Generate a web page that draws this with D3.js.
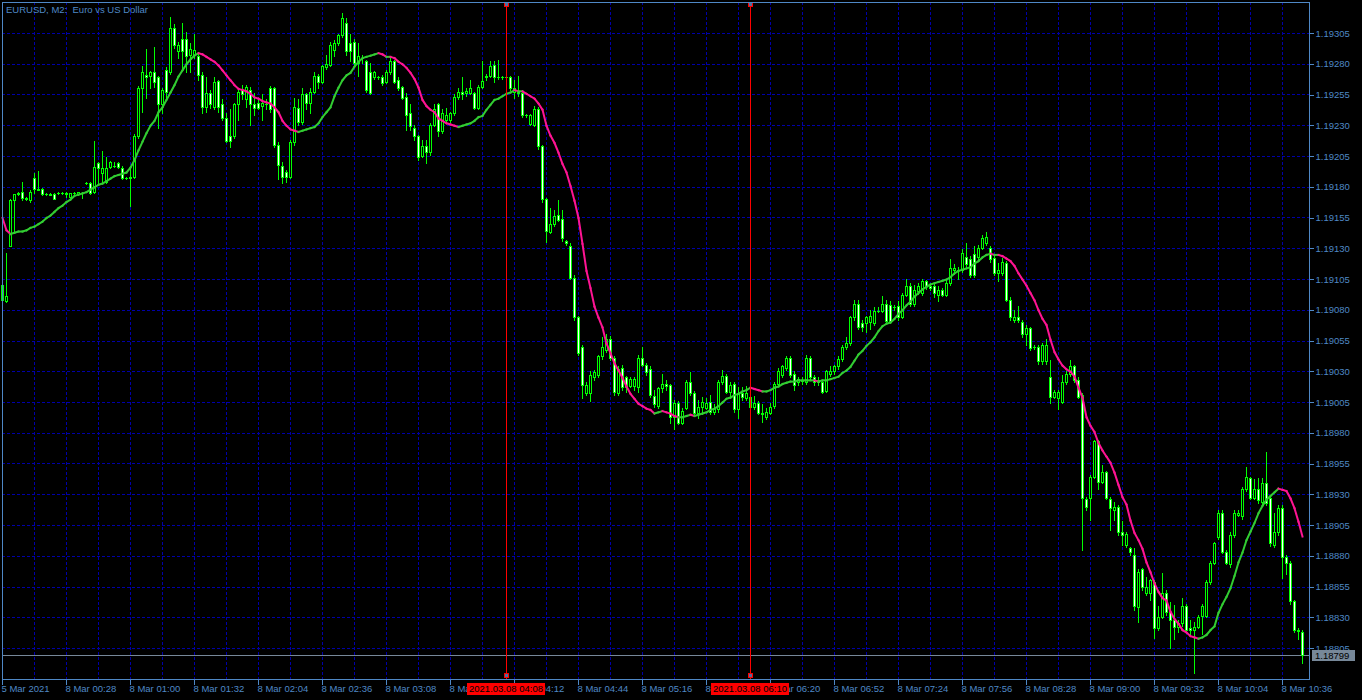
<!DOCTYPE html>
<html>
<head>
<meta charset="utf-8">
<title>EURUSD, M2</title>
<script src="https://d3js.org/d3.v7.min.js"></script>
<style>
  body { margin: 0; background: #000; }
  svg { display: block; }
  text { font-family: "Liberation Sans", Arial, sans-serif; font-size: 9.5px; }
</style>
</head>
<body>
<script>

// EURUSD M2 candles, bar 0 = 5 Mar 23:56, bar 2 = 8 Mar 00:00 (2 minutes per bar)

var openPrices = [
  1.19100, 1.19087, 1.19132, 1.19169, 1.19174, 1.19176, 1.19171, 1.19169, 1.19187, 1.19178,
  1.19178, 1.19174, 1.19174, 1.19174, 1.19175, 1.19175, 1.19174, 1.19172, 1.19175, 1.19174,
  1.19175, 1.19183, 1.19183, 1.19176, 1.19199, 1.19191, 1.19184, 1.19196, 1.19197, 1.19199,
  1.19195, 1.19187, 1.19188, 1.19188, 1.19221, 1.19260, 1.19271, 1.19270, 1.19273, 1.19269,
  1.19247, 1.19275, 1.19273, 1.19309, 1.19290, 1.19300, 1.19300, 1.19287, 1.19287, 1.19286,
  1.19271, 1.19245, 1.19256, 1.19245, 1.19266, 1.19247, 1.19236, 1.19221, 1.19221, 1.19247,
  1.19259, 1.19251, 1.19259, 1.19247, 1.19248, 1.19246, 1.19247, 1.19260, 1.19260, 1.19214,
  1.19197, 1.19192, 1.19188, 1.19216, 1.19244, 1.19233, 1.19255, 1.19248, 1.19257, 1.19270,
  1.19265, 1.19277, 1.19279, 1.19291, 1.19297, 1.19303, 1.19313, 1.19297, 1.19298, 1.19281,
  1.19285, 1.19282, 1.19273, 1.19269, 1.19269, 1.19269, 1.19265, 1.19273, 1.19282, 1.19267,
  1.19261, 1.19253, 1.19240, 1.19228, 1.19221, 1.19205, 1.19213, 1.19208, 1.19230, 1.19247,
  1.19225, 1.19234, 1.19234, 1.19240, 1.19253, 1.19257, 1.19256, 1.19256, 1.19256, 1.19244,
  1.19261, 1.19270, 1.19270, 1.19279, 1.19269, 1.19269, 1.19269, 1.19269, 1.19257, 1.19257,
  1.19256, 1.19238, 1.19231, 1.19230, 1.19243, 1.19213, 1.19170, 1.19143, 1.19150, 1.19157,
  1.19154, 1.19136, 1.19132, 1.19106, 1.19074, 1.19050, 1.19012, 1.19012, 1.19025, 1.19027,
  1.19042, 1.19047, 1.19056, 1.19041, 1.19012, 1.19033, 1.19025, 1.19018, 1.19018, 1.19017,
  1.19041, 1.19035, 1.19032, 1.19010, 1.19002, 1.19016, 1.19020, 1.19019, 1.18993, 1.19004,
  1.18988, 1.19000, 1.19021, 1.19012, 1.18996, 1.19001, 1.19000, 1.19005, 1.18997, 1.18999,
  1.19021, 1.19026, 1.19013, 1.19020, 1.18999, 1.19012, 1.19008, 1.19009, 1.19001, 1.19004,
  1.18996, 1.18993, 1.18996, 1.19002, 1.19020, 1.19027, 1.19033, 1.19041, 1.19028, 1.19021,
  1.19022, 1.19021, 1.19041, 1.19025, 1.19021, 1.19021, 1.19014, 1.19028, 1.19030, 1.19034,
  1.19040, 1.19050, 1.19053, 1.19074, 1.19085, 1.19069, 1.19069, 1.19070, 1.19069, 1.19079,
  1.19079, 1.19085, 1.19084, 1.19082, 1.19083, 1.19074, 1.19092, 1.19099, 1.19085, 1.19095,
  1.19094, 1.19103, 1.19099, 1.19099, 1.19092, 1.19096, 1.19092, 1.19102, 1.19112, 1.19112,
  1.19112, 1.19123, 1.19121, 1.19125, 1.19123, 1.19130, 1.19134, 1.19130, 1.19122, 1.19110,
  1.19110, 1.19118, 1.19088, 1.19072, 1.19074, 1.19070, 1.19060, 1.19065, 1.19050, 1.19050,
  1.19038, 1.19038, 1.19025, 1.19009, 1.19008, 1.19005, 1.19021, 1.19028, 1.19034, 1.19023,
  1.19011, 1.18926, 1.18927, 1.18944, 1.18973, 1.18940, 1.18948, 1.18926, 1.18917, 1.18920,
  1.18899, 1.18889, 1.18886, 1.18881, 1.18838, 1.18869, 1.18850, 1.18850, 1.18859, 1.18821,
  1.18830, 1.18850, 1.18834, 1.18828, 1.18822, 1.18825, 1.18839, 1.18821, 1.18820, 1.18822,
  1.18831, 1.18831, 1.18859, 1.18874, 1.18895, 1.18915, 1.18883, 1.18873, 1.18897, 1.18913,
  1.18912, 1.18934, 1.18943, 1.18927, 1.18934, 1.18924, 1.18939, 1.18927, 1.18889, 1.18899,
  1.18919, 1.18879, 1.18874, 1.18843, 1.18820, 1.18818
];

var highPrices = [
  1.19108, 1.19126, 1.19170, 1.19174, 1.19176, 1.19184, 1.19172, 1.19177, 1.19191, 1.19193,
  1.19179, 1.19175, 1.19175, 1.19175, 1.19176, 1.19176, 1.19176, 1.19175, 1.19176, 1.19176,
  1.19176, 1.19184, 1.19184, 1.19217, 1.19200, 1.19209, 1.19204, 1.19201, 1.19200, 1.19200,
  1.19197, 1.19188, 1.19196, 1.19223, 1.19262, 1.19278, 1.19292, 1.19274, 1.19294, 1.19270,
  1.19260, 1.19277, 1.19318, 1.19312, 1.19298, 1.19313, 1.19306, 1.19297, 1.19304, 1.19289,
  1.19273, 1.19269, 1.19259, 1.19269, 1.19267, 1.19251, 1.19240, 1.19243, 1.19248, 1.19260,
  1.19263, 1.19263, 1.19261, 1.19256, 1.19251, 1.19255, 1.19251, 1.19262, 1.19261, 1.19216,
  1.19200, 1.19194, 1.19218, 1.19252, 1.19251, 1.19260, 1.19256, 1.19260, 1.19273, 1.19272,
  1.19279, 1.19287, 1.19298, 1.19299, 1.19304, 1.19321, 1.19317, 1.19304, 1.19300, 1.19297,
  1.19287, 1.19283, 1.19281, 1.19274, 1.19270, 1.19271, 1.19275, 1.19285, 1.19283, 1.19269,
  1.19262, 1.19256, 1.19247, 1.19230, 1.19222, 1.19218, 1.19218, 1.19232, 1.19247, 1.19248,
  1.19243, 1.19244, 1.19241, 1.19255, 1.19260, 1.19269, 1.19260, 1.19267, 1.19257, 1.19263,
  1.19282, 1.19272, 1.19282, 1.19282, 1.19283, 1.19270, 1.19270, 1.19270, 1.19267, 1.19270,
  1.19259, 1.19239, 1.19239, 1.19246, 1.19245, 1.19214, 1.19171, 1.19163, 1.19161, 1.19169,
  1.19161, 1.19137, 1.19134, 1.19108, 1.19075, 1.19051, 1.19021, 1.19030, 1.19031, 1.19043,
  1.19058, 1.19060, 1.19059, 1.19042, 1.19034, 1.19035, 1.19026, 1.19025, 1.19025, 1.19043,
  1.19050, 1.19037, 1.19034, 1.19015, 1.19017, 1.19028, 1.19023, 1.19020, 1.19007, 1.19006,
  1.19000, 1.19023, 1.19029, 1.19014, 1.19007, 1.19009, 1.19008, 1.19011, 1.19003, 1.19023,
  1.19031, 1.19028, 1.19021, 1.19021, 1.19017, 1.19017, 1.19018, 1.19011, 1.19010, 1.19006,
  1.19003, 1.19000, 1.19004, 1.19021, 1.19033, 1.19035, 1.19042, 1.19042, 1.19030, 1.19025,
  1.19025, 1.19043, 1.19042, 1.19027, 1.19025, 1.19023, 1.19031, 1.19034, 1.19035, 1.19042,
  1.19051, 1.19058, 1.19075, 1.19088, 1.19088, 1.19072, 1.19075, 1.19080, 1.19082, 1.19082,
  1.19091, 1.19088, 1.19087, 1.19084, 1.19087, 1.19094, 1.19105, 1.19102, 1.19100, 1.19102,
  1.19105, 1.19104, 1.19101, 1.19101, 1.19099, 1.19098, 1.19104, 1.19121, 1.19117, 1.19115,
  1.19129, 1.19134, 1.19124, 1.19132, 1.19133, 1.19141, 1.19143, 1.19132, 1.19124, 1.19118,
  1.19122, 1.19120, 1.19090, 1.19080, 1.19083, 1.19072, 1.19068, 1.19066, 1.19051, 1.19051,
  1.19053, 1.19056, 1.19039, 1.19015, 1.19015, 1.19027, 1.19030, 1.19039, 1.19035, 1.19025,
  1.19012, 1.18928, 1.18946, 1.18974, 1.18974, 1.18954, 1.18949, 1.18928, 1.18924, 1.18921,
  1.18908, 1.18899, 1.18887, 1.18886, 1.18869, 1.18870, 1.18863, 1.18861, 1.18860, 1.18839,
  1.18866, 1.18852, 1.18842, 1.18840, 1.18828, 1.18846, 1.18841, 1.18828, 1.18826, 1.18832,
  1.18841, 1.18860, 1.18876, 1.18891, 1.18917, 1.18917, 1.18885, 1.18899, 1.18917, 1.18917,
  1.18936, 1.18952, 1.18944, 1.18942, 1.18943, 1.18943, 1.18964, 1.18929, 1.18915, 1.18921,
  1.18921, 1.18881, 1.18876, 1.18844, 1.18821, 1.18820
];

var lowPrices = [
  1.19086, 1.19086, 1.19132, 1.19143, 1.19173, 1.19169, 1.19169, 1.19168, 1.19175, 1.19177,
  1.19173, 1.19173, 1.19173, 1.19170, 1.19174, 1.19174, 1.19172, 1.19172, 1.19174, 1.19173,
  1.19171, 1.19182, 1.19174, 1.19175, 1.19182, 1.19183, 1.19183, 1.19195, 1.19196, 1.19195,
  1.19186, 1.19186, 1.19164, 1.19187, 1.19220, 1.19241, 1.19252, 1.19260, 1.19261, 1.19228,
  1.19240, 1.19251, 1.19272, 1.19293, 1.19285, 1.19275, 1.19273, 1.19273, 1.19285, 1.19267,
  1.19240, 1.19241, 1.19244, 1.19243, 1.19241, 1.19234, 1.19216, 1.19212, 1.19220, 1.19234,
  1.19251, 1.19245, 1.19230, 1.19238, 1.19243, 1.19234, 1.19243, 1.19241, 1.19212, 1.19186,
  1.19183, 1.19184, 1.19187, 1.19214, 1.19230, 1.19231, 1.19243, 1.19240, 1.19256, 1.19260,
  1.19264, 1.19276, 1.19278, 1.19286, 1.19295, 1.19302, 1.19287, 1.19282, 1.19279, 1.19270,
  1.19281, 1.19257, 1.19255, 1.19268, 1.19268, 1.19263, 1.19264, 1.19272, 1.19264, 1.19259,
  1.19251, 1.19226, 1.19226, 1.19218, 1.19202, 1.19204, 1.19199, 1.19206, 1.19229, 1.19221,
  1.19224, 1.19233, 1.19233, 1.19238, 1.19251, 1.19251, 1.19254, 1.19255, 1.19243, 1.19243,
  1.19260, 1.19267, 1.19269, 1.19265, 1.19268, 1.19268, 1.19268, 1.19259, 1.19252, 1.19254,
  1.19237, 1.19237, 1.19230, 1.19229, 1.19211, 1.19168, 1.19135, 1.19142, 1.19148, 1.19152,
  1.19136, 1.19133, 1.19105, 1.19072, 1.19043, 1.19008, 1.19011, 1.19006, 1.19023, 1.19025,
  1.19040, 1.19046, 1.19039, 1.19011, 1.19011, 1.19015, 1.19013, 1.19017, 1.19015, 1.19013,
  1.19034, 1.19027, 1.19009, 1.19001, 1.19000, 1.19013, 1.19015, 1.18988, 1.18983, 1.18987,
  1.18987, 1.18999, 1.19011, 1.18995, 1.18992, 1.18995, 1.18999, 1.18995, 1.18995, 1.18997,
  1.19020, 1.19012, 1.19008, 1.18997, 1.18992, 1.19007, 1.19007, 1.19000, 1.18999, 1.18995,
  1.18989, 1.18991, 1.18995, 1.19000, 1.19018, 1.19025, 1.19031, 1.19025, 1.19015, 1.19019,
  1.19020, 1.19020, 1.19023, 1.19019, 1.19019, 1.19012, 1.19013, 1.19026, 1.19028, 1.19032,
  1.19038, 1.19048, 1.19051, 1.19072, 1.19064, 1.19063, 1.19062, 1.19064, 1.19068, 1.19078,
  1.19078, 1.19069, 1.19069, 1.19080, 1.19072, 1.19073, 1.19091, 1.19083, 1.19083, 1.19093,
  1.19092, 1.19097, 1.19096, 1.19090, 1.19087, 1.19091, 1.19091, 1.19100, 1.19109, 1.19105,
  1.19111, 1.19115, 1.19107, 1.19107, 1.19121, 1.19129, 1.19133, 1.19119, 1.19108, 1.19103,
  1.19108, 1.19087, 1.19072, 1.19070, 1.19070, 1.19058, 1.19051, 1.19047, 1.19048, 1.19036,
  1.19036, 1.19036, 1.19004, 1.19008, 1.18999, 1.19004, 1.19020, 1.19026, 1.19021, 1.19008,
  1.18885, 1.18917, 1.18909, 1.18943, 1.18934, 1.18939, 1.18926, 1.18901, 1.18909, 1.18897,
  1.18889, 1.18887, 1.18881, 1.18836, 1.18826, 1.18852, 1.18848, 1.18844, 1.18813, 1.18820,
  1.18829, 1.18832, 1.18805, 1.18812, 1.18818, 1.18823, 1.18818, 1.18816, 1.18785, 1.18821,
  1.18816, 1.18830, 1.18857, 1.18873, 1.18894, 1.18882, 1.18873, 1.18871, 1.18895, 1.18912,
  1.18910, 1.18933, 1.18926, 1.18926, 1.18923, 1.18922, 1.18921, 1.18888, 1.18887, 1.18897,
  1.18862, 1.18865, 1.18841, 1.18818, 1.18812, 1.18793
];

var closePrices = [
  1.19088, 1.19091, 1.19169, 1.19174, 1.19175, 1.19171, 1.19170, 1.19176, 1.19178, 1.19177,
  1.19174, 1.19174, 1.19173, 1.19170, 1.19175, 1.19175, 1.19175, 1.19175, 1.19175, 1.19176,
  1.19175, 1.19183, 1.19175, 1.19196, 1.19195, 1.19195, 1.19195, 1.19200, 1.19197, 1.19196,
  1.19187, 1.19187, 1.19187, 1.19221, 1.19260, 1.19273, 1.19269, 1.19273, 1.19265, 1.19247,
  1.19259, 1.19257, 1.19309, 1.19295, 1.19295, 1.19290, 1.19286, 1.19292, 1.19291, 1.19271,
  1.19245, 1.19256, 1.19247, 1.19265, 1.19245, 1.19236, 1.19217, 1.19217, 1.19247, 1.19257,
  1.19255, 1.19261, 1.19247, 1.19244, 1.19244, 1.19248, 1.19247, 1.19243, 1.19214, 1.19198,
  1.19188, 1.19188, 1.19216, 1.19245, 1.19233, 1.19255, 1.19248, 1.19257, 1.19270, 1.19265,
  1.19278, 1.19280, 1.19295, 1.19297, 1.19303, 1.19317, 1.19290, 1.19290, 1.19281, 1.19286,
  1.19285, 1.19259, 1.19256, 1.19273, 1.19269, 1.19264, 1.19273, 1.19282, 1.19265, 1.19260,
  1.19252, 1.19238, 1.19229, 1.19221, 1.19204, 1.19213, 1.19208, 1.19230, 1.19243, 1.19225,
  1.19240, 1.19238, 1.19240, 1.19253, 1.19257, 1.19255, 1.19258, 1.19260, 1.19244, 1.19261,
  1.19266, 1.19269, 1.19278, 1.19269, 1.19269, 1.19269, 1.19269, 1.19260, 1.19260, 1.19256,
  1.19238, 1.19238, 1.19238, 1.19243, 1.19213, 1.19170, 1.19144, 1.19150, 1.19156, 1.19153,
  1.19138, 1.19134, 1.19106, 1.19074, 1.19045, 1.19019, 1.19019, 1.19027, 1.19029, 1.19042,
  1.19050, 1.19056, 1.19041, 1.19013, 1.19032, 1.19017, 1.19017, 1.19024, 1.19024, 1.19041,
  1.19035, 1.19029, 1.19011, 1.19003, 1.19016, 1.19020, 1.19018, 1.18993, 1.19004, 1.18988,
  1.18998, 1.19021, 1.19012, 1.18996, 1.19001, 1.19005, 1.19004, 1.18997, 1.19000, 1.19021,
  1.19026, 1.19013, 1.19019, 1.18999, 1.19012, 1.19009, 1.19012, 1.19001, 1.19004, 1.18996,
  1.18995, 1.18997, 1.19001, 1.19020, 1.19030, 1.19034, 1.19041, 1.19027, 1.19019, 1.19024,
  1.19023, 1.19041, 1.19025, 1.19021, 1.19023, 1.19013, 1.19030, 1.19030, 1.19034, 1.19040,
  1.19050, 1.19053, 1.19074, 1.19085, 1.19066, 1.19066, 1.19074, 1.19075, 1.19079, 1.19079,
  1.19085, 1.19071, 1.19071, 1.19082, 1.19074, 1.19092, 1.19099, 1.19085, 1.19096, 1.19099,
  1.19103, 1.19099, 1.19098, 1.19094, 1.19096, 1.19092, 1.19102, 1.19114, 1.19114, 1.19112,
  1.19126, 1.19117, 1.19108, 1.19108, 1.19130, 1.19138, 1.19139, 1.19121, 1.19110, 1.19112,
  1.19119, 1.19088, 1.19074, 1.19074, 1.19072, 1.19060, 1.19065, 1.19049, 1.19050, 1.19038,
  1.19051, 1.19051, 1.19009, 1.19013, 1.19013, 1.19021, 1.19028, 1.19034, 1.19023, 1.19009,
  1.18927, 1.18920, 1.18944, 1.18973, 1.18940, 1.18948, 1.18927, 1.18919, 1.18920, 1.18899,
  1.18897, 1.18898, 1.18883, 1.18839, 1.18867, 1.18855, 1.18855, 1.18860, 1.18821, 1.18830,
  1.18850, 1.18834, 1.18828, 1.18822, 1.18825, 1.18839, 1.18820, 1.18820, 1.18822, 1.18830,
  1.18839, 1.18859, 1.18874, 1.18890, 1.18915, 1.18883, 1.18874, 1.18897, 1.18915, 1.18915,
  1.18934, 1.18944, 1.18927, 1.18934, 1.18925, 1.18939, 1.18923, 1.18890, 1.18899, 1.18919,
  1.18879, 1.18874, 1.18843, 1.18820, 1.18819, 1.18799
];

// moving average as drawn on the chart (green rising, pink falling)
var maValues = [
  1.19155, 1.19145, 1.19142, 1.19143, 1.19144, 1.19144, 1.19145, 1.19147, 1.19148, 1.19150,
  1.19152, 1.19155, 1.19157, 1.19160, 1.19163, 1.19165, 1.19168, 1.19170, 1.19173, 1.19174,
  1.19175, 1.19176, 1.19178, 1.19180, 1.19182, 1.19183, 1.19185, 1.19187, 1.19189, 1.19190,
  1.19191, 1.19192, 1.19196, 1.19202, 1.19210, 1.19217, 1.19224, 1.19230, 1.19234, 1.19241,
  1.19245, 1.19251, 1.19257, 1.19263, 1.19270, 1.19275, 1.19280, 1.19284, 1.19287, 1.19289,
  1.19288, 1.19286, 1.19284, 1.19282, 1.19279, 1.19275, 1.19271, 1.19267, 1.19263, 1.19260,
  1.19259, 1.19258, 1.19256, 1.19253, 1.19252, 1.19250, 1.19249, 1.19248, 1.19245, 1.19241,
  1.19234, 1.19230, 1.19227, 1.19226, 1.19225, 1.19226, 1.19227, 1.19228, 1.19229, 1.19232,
  1.19237, 1.19241, 1.19245, 1.19254, 1.19261, 1.19267, 1.19271, 1.19273, 1.19278, 1.19282,
  1.19285, 1.19286, 1.19287, 1.19288, 1.19289, 1.19288, 1.19286, 1.19286, 1.19285, 1.19282,
  1.19280, 1.19277, 1.19273, 1.19268, 1.19261, 1.19251, 1.19246, 1.19243, 1.19241, 1.19236,
  1.19234, 1.19232, 1.19231, 1.19230, 1.19229, 1.19230, 1.19231, 1.19232, 1.19234, 1.19237,
  1.19238, 1.19243, 1.19247, 1.19251, 1.19252, 1.19254, 1.19256, 1.19257, 1.19259, 1.19258,
  1.19258, 1.19256, 1.19254, 1.19252, 1.19248, 1.19243, 1.19230, 1.19222, 1.19216, 1.19208,
  1.19199, 1.19192, 1.19181, 1.19169, 1.19155, 1.19134, 1.19112, 1.19098, 1.19083, 1.19074,
  1.19066, 1.19053, 1.19045, 1.19037, 1.19031, 1.19025, 1.19018, 1.19012, 1.19008, 1.19004,
  1.19002, 1.19000, 1.18999, 1.18996, 1.18997, 1.18998, 1.18997, 1.18996, 1.18994, 1.18993,
  1.18993, 1.18994, 1.18995, 1.18994, 1.18995, 1.18996, 1.18997, 1.18999, 1.19000, 1.19002,
  1.19005, 1.19008, 1.19009, 1.19011, 1.19012, 1.19014, 1.19015, 1.19017, 1.19016, 1.19015,
  1.19014, 1.19014, 1.19015, 1.19017, 1.19018, 1.19020, 1.19021, 1.19022, 1.19022, 1.19023,
  1.19023, 1.19023, 1.19023, 1.19023, 1.19022, 1.19023, 1.19023, 1.19024, 1.19025, 1.19026,
  1.19029, 1.19031, 1.19034, 1.19039, 1.19044, 1.19047, 1.19051, 1.19054, 1.19058, 1.19063,
  1.19067, 1.19069, 1.19070, 1.19073, 1.19077, 1.19080, 1.19084, 1.19087, 1.19091, 1.19094,
  1.19097, 1.19099, 1.19101, 1.19102, 1.19103, 1.19104, 1.19105, 1.19107, 1.19110, 1.19112,
  1.19113, 1.19114, 1.19115, 1.19118, 1.19120, 1.19123, 1.19125, 1.19126, 1.19125, 1.19125,
  1.19124, 1.19122, 1.19120, 1.19116, 1.19110, 1.19105, 1.19100, 1.19094, 1.19088, 1.19080,
  1.19073, 1.19068, 1.19056, 1.19046, 1.19040, 1.19035, 1.19032, 1.19030, 1.19026, 1.19017,
  1.19009, 1.18993, 1.18986, 1.18981, 1.18972, 1.18966, 1.18961, 1.18956, 1.18948, 1.18938,
  1.18928, 1.18922, 1.18909, 1.18899, 1.18893, 1.18886, 1.18875, 1.18867, 1.18858, 1.18851,
  1.18846, 1.18844, 1.18835, 1.18829, 1.18825, 1.18820, 1.18818, 1.18815, 1.18814, 1.18813,
  1.18814, 1.18816, 1.18820, 1.18823, 1.18834, 1.18841, 1.18847, 1.18854, 1.18864, 1.18875,
  1.18883, 1.18893, 1.18900, 1.18907, 1.18915, 1.18921, 1.18926, 1.18929, 1.18932, 1.18935,
  1.18934, 1.18933, 1.18927, 1.18919, 1.18908, 1.18896
];

// price scale labels (right) and time labels (bottom, every 16 bars)
var priceTicks = [
  "1.19305", "1.19280", "1.19255", "1.19230", "1.19205", "1.19180", "1.19155",
  "1.19130", "1.19105", "1.19080", "1.19055", "1.19030", "1.19005", "1.18980",
  "1.18955", "1.18930", "1.18905", "1.18880", "1.18855", "1.18830", "1.18805"
];

var timeLabels = [
  "5 Mar 2021", "8 Mar 00:28", "8 Mar 01:00", "8 Mar 01:32", "8 Mar 02:04",
  "8 Mar 02:36", "8 Mar 03:08", "8 Mar 03:40", "8 Mar 04:12", "8 Mar 04:44",
  "8 Mar 05:16", "8 Mar 05:48", "8 Mar 06:20", "8 Mar 06:52", "8 Mar 07:24",
  "8 Mar 07:56", "8 Mar 08:28", "8 Mar 09:00", "8 Mar 09:32", "8 Mar 10:04",
  "8 Mar 10:36"
];

// the two red vertical lines
var markerBars = [126, 187];
var markerLabels = ["2021.03.08 04:08", "2021.03.08 06:10"];

var chartTitle = "EURUSD, M2:  Euro vs US Dollar";


window.onload = function() {

  var chartPad = {
    w: 1362,
    h: 700,
    left: 2,
    top: 2,
    right: 1309,
    bottom: 679
  };

  drawChart(chartPad);

};


function drawChart(chartPad) {

  var colors = {
    fore: "#4f88c6",
    grid: "#0000a8",
    candle: "#00ff00",
    up: "#32cd32",
    down: "#ff1493",
    marker: "#ff0000",
    last: "#778899"
  };

  var svg = d3.select("body")
            .append("svg")
              .attr("width", chartPad.w)
              .attr("height", chartPad.h)
              .style("background", "#000");

  // bar index -> pixel column, price -> pixel row
  var xScale = d3.scaleLinear()
                 .domain([0, openPrices.length - 1])
                 .range([chartPad.left, 1302]);

  var yScale = d3.scaleLinear()
                 .domain([1.18805, 1.19305])
                 .range([648, 33]);

  var px = function(i) { return Math.round(xScale(i)); };
  var py = function(v) { return Math.round(yScale(v)); };

  var priceValues = priceTicks.map(Number);
  var timeBars = timeLabels.map(function(d, i) { return i * 16; });

  // grid: vertical every 8 bars, horizontal on each price level
  var gridBars = d3.range(8, openPrices.length, 8);

  svg.append("g")
      .attr("class", "grid")
    .selectAll("line.gx")
      .data(gridBars)
      .enter()
    .append("line")
      .attr("x1", function(d) { return px(d) + 0.5; })
      .attr("x2", function(d) { return px(d) + 0.5; })
      .attr("y1", chartPad.top)
      .attr("y2", chartPad.bottom)
      .attr("stroke", colors.grid)
      .attr("stroke-dasharray", "3,2")
      .attr("shape-rendering", "crispEdges");

  svg.select("g.grid")
    .selectAll("line.gy")
      .data(priceValues)
      .enter()
    .append("line")
      .attr("x1", chartPad.left)
      .attr("x2", chartPad.right)
      .attr("y1", function(d) { return py(d) + 0.5; })
      .attr("y2", function(d) { return py(d) + 0.5; })
      .attr("stroke", colors.grid)
      .attr("stroke-dasharray", "3,2")
      .attr("shape-rendering", "crispEdges");

  // last price line
  var lastPrice = closePrices[closePrices.length - 1];

  svg.append("line")
      .attr("x1", chartPad.left)
      .attr("x2", chartPad.right)
      .attr("y1", py(lastPrice) + 0.5)
      .attr("y2", py(lastPrice) + 0.5)
      .attr("stroke", colors.last)
      .attr("shape-rendering", "crispEdges");

  // candles
  var bars = d3.range(openPrices.length);

  var candle = svg.append("g")
                  .attr("shape-rendering", "crispEdges")
                .selectAll("g")
                  .data(bars)
                  .enter()
                .append("g");

  candle.append("line")
      .attr("x1", function(i) { return px(i) + 0.5; })
      .attr("x2", function(i) { return px(i) + 0.5; })
      .attr("y1", function(i) { return py(highPrices[i]); })
      .attr("y2", function(i) { return py(lowPrices[i]) + 1; })
      .attr("stroke", colors.candle);

  candle.append("rect")
      .each(function(i) {
        var top = py(Math.max(openPrices[i], closePrices[i]));
        var bot = py(Math.min(openPrices[i], closePrices[i]));
        var rect = d3.select(this);
        if (bot - top < 2) {
          // flat candle = short horizontal dash
          rect.attr("x", px(i) - 1)
              .attr("y", top)
              .attr("width", 3)
              .attr("height", bot - top + 1)
              .attr("fill", colors.candle);
        } else {
          rect.attr("x", px(i) - 0.5)
              .attr("y", top + 0.5)
              .attr("width", 2)
              .attr("height", bot - top)
              .attr("stroke", colors.candle)
              .attr("fill", closePrices[i] >= openPrices[i] ? "#000" : "#fff");
        }
      });

  // moving average, one segment per bar, coloured by direction
  var maLine = d3.line()
                 .x(function(i) { return xScale(i) + 0.5; })
                 .y(function(i) { return yScale(maValues[i]) + 0.5; });

  svg.append("g")
    .selectAll("path")
      .data(d3.range(1, maValues.length))
      .enter()
    .append("path")
      .attr("d", function(i) { return maLine([i - 1, i]); })
      .attr("fill", "none")
      .attr("stroke-width", 2)
      .attr("stroke-linecap", "square")
      .attr("stroke", function(i) {
        return maValues[i] >= maValues[i - 1] ? colors.up : colors.down;
      });

  // red vertical lines with end markers
  var marker = svg.append("g")
                .selectAll("g")
                  .data(markerBars)
                  .enter()
                .append("g")
                  .attr("shape-rendering", "crispEdges");

  marker.append("line")
      .attr("x1", function(d) { return px(d) + 0.5; })
      .attr("x2", function(d) { return px(d) + 0.5; })
      .attr("y1", chartPad.top)
      .attr("y2", chartPad.bottom)
      .attr("stroke", colors.marker);

  [chartPad.top + 3, chartPad.bottom - 3].forEach(function(yy) {
    marker.append("rect")
        .attr("x", function(d) { return px(d) - 1.5; })
        .attr("y", yy - 2.5)
        .attr("width", 4)
        .attr("height", 4)
        .attr("fill", "#4f6f9f")
        .attr("stroke", colors.marker);
  });

  // frame
  svg.append("rect")
      .attr("x", chartPad.left + 0.5)
      .attr("y", chartPad.top + 0.5)
      .attr("width", chartPad.right - chartPad.left)
      .attr("height", chartPad.bottom - chartPad.top)
      .attr("fill", "none")
      .attr("stroke", colors.fore)
      .attr("shape-rendering", "crispEdges");

  // price axis
  var yAxis = d3.axisRight(yScale)
                .tickValues(priceValues)
                .tickSize(4)
                .tickPadding(2)
                .tickFormat(function(d, i) { return priceTicks[i]; });

  var gy = svg.append("g")
              .attr("transform", "translate(" + (chartPad.right + 0.5) + ",0)")
              .call(yAxis);

  // time axis
  var xAxis = d3.axisBottom(xScale)
                .tickValues(timeBars)
                .tickSize(5)
                .tickPadding(1)
                .tickFormat(function(d, i) { return timeLabels[i]; });

  var gx = svg.append("g")
              .attr("transform", "translate(0," + (chartPad.bottom + 0.5) + ")")
              .call(xAxis);

  gx.selectAll("text")
      .attr("text-anchor", "start")
      .attr("x", -1);

  [gx, gy].forEach(function(g) {
    g.select(".domain").remove();
    g.selectAll("line").attr("stroke", colors.fore).attr("shape-rendering", "crispEdges");
    g.selectAll("text").attr("fill", colors.fore)
      .style("font-family", "'Liberation Sans', Arial, sans-serif")
      .style("font-size", "9.5px");
  });

  // last price label, sits just under the lowest scale label
  svg.append("rect")
      .attr("x", chartPad.right + 3)
      .attr("y", py(lastPrice) - 5)
      .attr("width", 43)
      .attr("height", 11)
      .attr("fill", colors.last);

  svg.append("text")
      .attr("x", chartPad.right + 6)
      .attr("y", py(lastPrice) + 4)
      .attr("fill", "#000")
      .text(d3.format(".5f")(lastPrice));

  // red time labels of the vertical lines (they cover the axis labels, as in MT)
  var tag = svg.append("g")
             .selectAll("g")
               .data(markerBars)
               .enter()
             .append("g");

  tag.append("rect")
      .attr("x", function(d) { return px(d) - 39; })
      .attr("y", chartPad.bottom + 4)
      .attr("width", 78)
      .attr("height", 12)
      .attr("fill", colors.marker);

  tag.append("text")
      .attr("x", function(d) { return px(d); })
      .attr("y", chartPad.bottom + 13)
      .attr("text-anchor", "middle")
      .attr("fill", "#000")
      .text(function(d, i) { return markerLabels[i]; });

  // title
  svg.append("text")
      .attr("x", 6)
      .attr("y", 13)
      .attr("fill", colors.fore)
      .style("white-space", "pre")
      .text(chartTitle);

}

</script>
</body>
</html>
